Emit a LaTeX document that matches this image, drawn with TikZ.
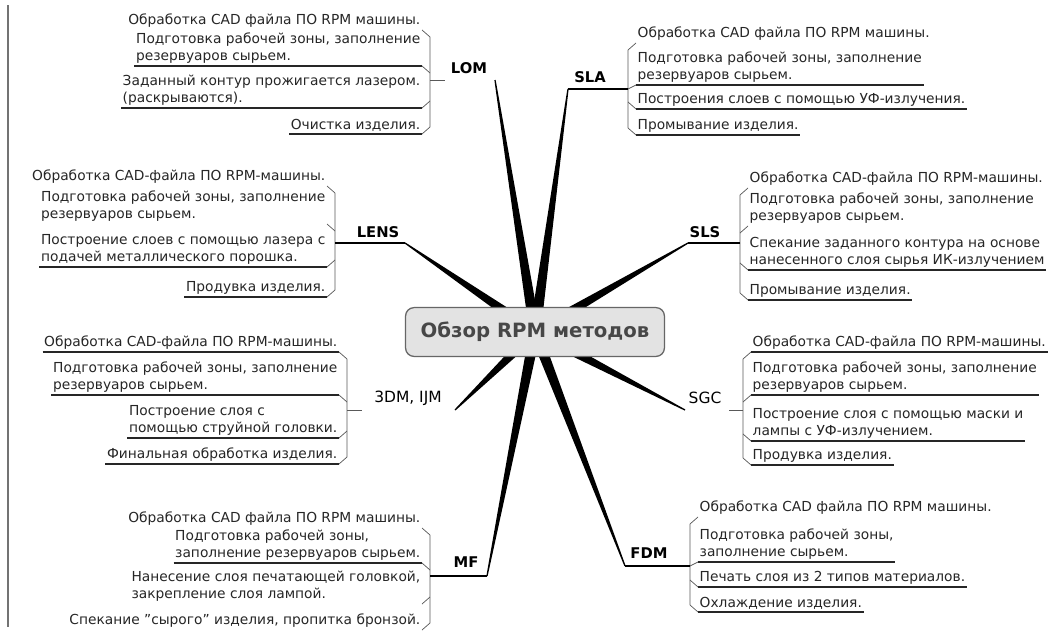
\documentclass[tikz,border=0pt]{standalone}
\usepackage{fontspec}
\setmainfont{DejaVu Sans}
\usetikzlibrary{calc, backgrounds}

\begin{document}
\begin{tikzpicture}[
    x=0.025cm, y=-0.025cm,
    every node/.style={font=\fontsize{9.8}{12}\selectfont, text=black!85, inner xsep=1pt, inner ysep=2pt},
    hub/.style={draw=black!60, fill=black!11, rounded corners=6pt, line width=0.9pt,
        minimum width=6.47cm, minimum height=1.22cm, inner sep=0pt,
        font=\fontsize{14}{16}\selectfont\bfseries, text=black!72},
    method/.style={font=\fontsize{10.5}{12}\selectfont\bfseries, text=black, inner sep=0pt},
    methodn/.style={font=\fontsize{11}{12}\selectfont, text=black, inner sep=0pt},
    litem/.style={anchor=south east, align=left},
    ritem/.style={anchor=south west, align=left},
    uline/.style={line width=1pt, black!85},
    stem/.style={line width=1pt, black},
    brace/.style={line width=0.5pt, black!65},
]
    % thick tapering spoke from the hub out to one method
    \newcommand{\rpmspoke}[1]{%
        \fill[black] ($(hub.center)!4pt!90:(#1)$) -- ($(#1)!0.45pt!-90:(hub.center)$)
            -- ($(#1)!0.45pt!90:(hub.center)$) -- ($(hub.center)!4pt!-90:(#1)$) -- cycle;
    }
    \useasboundingbox (0,0) rectangle (1050,632);

    % page edge on the left
    \coordinate (edge-top) at (8,5);
    \coordinate (edge-bot) at (8,627);
    \draw[black!55, line width=1pt] (edge-top) -- (edge-bot);

    \node[hub] (hub) at (535,332) {Обзор RPM методов};

    % LOM
    \node[method] (lom) at (469,68) {LOM};
    \coordinate (lom-tip) at (495,80);
    \coordinate (lom-jn) at (430,80);
    \coordinate (lom-tick) at (445,80);
    \node[litem] (lom1) at (422,30) {Обработка CAD файла ПО RPM машины.};
    \node[litem] (lom2) at (422,66) {Подготовка рабочей зоны, заполнение\\резервуаров сырьем.};
    \node[litem] (lom3) at (422,108) {Заданный контур прожигается лазером.\\(раскрываются).};
    \node[litem] (lom4) at (422,134) {Очистка изделия.};
    \foreach \n in {lom2, lom3, lom4} \draw[uline] (\n.south west) -- (\n.south east);
    \draw[brace] (lom1.south east) -- ++(8,7) -- ($(lom4.south east)+(8,-7)$) -- (lom4.south east);
    \draw[brace] (lom2.south east) -- ++(8,7);
    \draw[brace] (lom3.south east) -- ++(8,-7);
    \draw[brace] (lom-jn) -- (lom-tick);

    % SLA
    \node[method] (sla) at (590,77) {SLA};
    \coordinate (sla-tip) at (568,89);
    \coordinate (sla-jn) at (628,89);
    \node[ritem] (sla1) at (636,43) {Обработка CAD файла ПО RPM машины.};
    \node[ritem] (sla2) at (636,85) {Подготовка рабочей зоны, заполнение\\резервуаров сырьем.};
    \node[ritem] (sla3) at (636,109) {Построения слоев с помощью УФ-излучения.};
    \node[ritem] (sla4) at (636,135) {Промывание изделия.};
    \foreach \n in {sla2, sla3, sla4} \draw[uline] (\n.south west) -- (\n.south east);
    \draw[brace] (sla1.south west) -- ++(-8,7) -- ($(sla4.south west)+(-8,-7)$) -- (sla4.south west);
    \draw[brace] (sla2.south west) -- ++(-8,4);
    \draw[brace] (sla3.south west) -- ++(-8,-7);
    \draw[stem] (sla-jn) -- (sla-tip);

    % LENS
    \node[method] (lens) at (378,232) {LENS};
    \coordinate (lens-tip) at (405,243);
    \coordinate (lens-jn) at (335,243);
    \node[litem] (lens1) at (327,186) {Обработка CAD-файла ПО RPM-машины.};
    \node[litem] (lens2) at (327,224) {Подготовка рабочей зоны, заполнение\\резервуаров сырьем.};
    \node[litem] (lens3) at (327,267) {Построение слоев с помощью лазера с\\подачей металлического порошка.};
    \node[litem] (lens4) at (327,297) {Продувка изделия.};
    \foreach \n in {lens3, lens4} \draw[uline] (\n.south west) -- (\n.south east);
    \draw[brace] (lens1.south east) -- ++(8,7) -- ($(lens4.south east)+(8,-7)$) -- (lens4.south east);
    \draw[brace] (lens2.south east) -- ++(8,7);
    \draw[brace] (lens3.south east) -- ++(8,-7);
    \draw[stem] (lens-jn) -- (lens-tip);

    % SLS
    \node[method] (sls) at (705,232) {SLS};
    \coordinate (sls-tip) at (688,243);
    \coordinate (sls-jn) at (740,243);
    \node[ritem] (sls1) at (748,188) {Обработка CAD-файла ПО RPM-машины.};
    \node[ritem] (sls2) at (748,226) {Подготовка рабочей зоны, заполнение\\резервуаров сырьем.};
    \node[ritem] (sls3) at (748,270) {Спекание заданного контура на основе\\нанесенного слоя сырья ИК-излучением};
    \node[ritem] (sls4) at (748,300) {Промывание изделия.};
    \foreach \n in {sls3, sls4} \draw[uline] (\n.south west) -- (\n.south east);
    \draw[brace] (sls1.south west) -- ++(-8,7) -- ($(sls4.south west)+(-8,-7)$) -- (sls4.south west);
    \draw[brace] (sls2.south west) -- ++(-8,7);
    \draw[brace] (sls3.south west) -- ++(-8,-7);
    \draw[stem] (sls-jn) -- (sls-tip);

    % 3DM, IJM
    \node[methodn] (tdm) at (408,398) {3DM, IJM};
    \coordinate (tdm-tip) at (455,410);
    \coordinate (tdm-jn) at (347,410);
    \coordinate (tdm-tick) at (362,410);
    \node[litem] (tdm1) at (339,352) {Обработка CAD-файла ПО RPM-машины.};
    \node[litem] (tdm2) at (339,395) {Подготовка рабочей зоны, заполнение\\резервуаров сырьем.};
    \node[litem] (tdm3) at (339,438) {Построение слоя с\\помощью струйной головки.};
    \node[litem] (tdm4) at (339,464) {Финальная обработка изделия.};
    \foreach \n in {tdm1, tdm2, tdm3, tdm4} \draw[uline] (\n.south west) -- (\n.south east);
    \draw[brace] (tdm1.south east) -- ++(8,7) -- ($(tdm4.south east)+(8,-7)$) -- (tdm4.south east);
    \draw[brace] (tdm2.south east) -- ++(8,7);
    \draw[brace] (tdm3.south east) -- ++(8,-7);
    \draw[brace] (tdm-jn) -- (tdm-tick);

    % SGC
    \node[methodn] (sgc) at (705,398) {SGC};
    \coordinate (sgc-tip) at (685,410);
    \coordinate (sgc-jn) at (743,410);
    \coordinate (sgc-tick) at (729,410);
    \node[ritem] (sgc1) at (751,352) {Обработка CAD-файла ПО RPM-машины.};
    \node[ritem] (sgc2) at (751,395) {Подготовка рабочей зоны, заполнение\\резервуаров сырьем.};
    \node[ritem] (sgc3) at (751,441) {Построение слоя с помощью маски и\\лампы с УФ-излучением.};
    \node[ritem] (sgc4) at (751,465) {Продувка изделия.};
    \foreach \n in {sgc1, sgc2, sgc3, sgc4} \draw[uline] (\n.south west) -- (\n.south east);
    \draw[brace] (sgc1.south west) -- ++(-8,7) -- ($(sgc4.south west)+(-8,-7)$) -- (sgc4.south west);
    \draw[brace] (sgc2.south west) -- ++(-8,7);
    \draw[brace] (sgc3.south west) -- ++(-8,-7);
    \draw[brace] (sgc-jn) -- (sgc-tick);

    % MF
    \node[method] (mf) at (466,562) {MF};
    \coordinate (mf-tip) at (487,576);
    \coordinate (mf-jn) at (430,576);
    \node[litem] (mf1) at (422,528) {Обработка CAD файла ПО RPM машины.};
    \node[litem] (mf2) at (422,563) {Подготовка рабочей зоны,\\заполнение резервуаров сырьем.};
    \node[litem] (mf3) at (422,604) {Нанесение слоя печатающей головкой,\\закрепление слоя лампой.};
    \node[litem] (mf4) at (422,630) {Спекание "сырого" изделия, пропитка бронзой.};
    \draw[uline] (mf2.south west) -- (mf2.south east);
    \draw[brace] (mf1.south east) -- ++(8,7) -- ($(mf4.south east)+(8,-7)$) -- (mf4.south east);
    \draw[brace] (mf2.south east) -- ++(8,7);
    \draw[brace] (mf3.south east) -- ++(8,-7);
    \draw[stem] (mf-jn) -- (mf-tip);

    % FDM
    \node[method] (fdm) at (649,553) {FDM};
    \coordinate (fdm-tip) at (625,566);
    \coordinate (fdm-jn) at (690,566);
    \node[ritem] (fdm1) at (698,517) {Обработка CAD файла ПО RPM машины.};
    \node[ritem] (fdm2) at (698,562) {Подготовка рабочей зоны,\\заполнение сырьем.};
    \node[ritem] (fdm3) at (698,587) {Печать слоя из 2 типов материалов.};
    \node[ritem] (fdm4) at (698,612) {Охлаждение изделия.};
    \foreach \n in {fdm2, fdm3, fdm4} \draw[uline] (\n.south west) -- (\n.south east);
    \draw[brace] (fdm1.south west) -- ++(-8,7) -- ($(fdm4.south west)+(-8,-7)$) -- (fdm4.south west);
    \draw[brace] (fdm2.south west) -- ++(-8,4);
    \draw[brace] (fdm3.south west) -- ++(-8,-7);
    \draw[stem] (fdm-jn) -- (fdm-tip);

    \begin{scope}[on background layer]
        \fill[white] (0,0) rectangle (1050,632);
        \foreach \t in {lom-tip, sla-tip, lens-tip, sls-tip, tdm-tip, sgc-tip, mf-tip, fdm-tip}
            \rpmspoke{\t};
    \end{scope}
\end{tikzpicture}
\end{document}
